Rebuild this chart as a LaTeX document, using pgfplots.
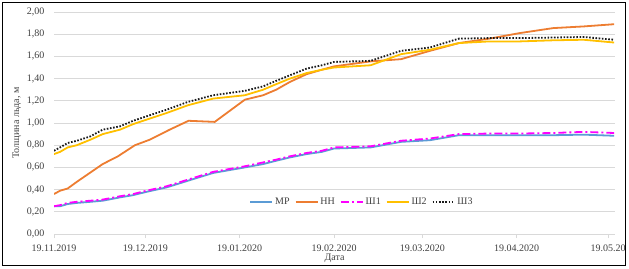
\documentclass[border=0pt]{standalone}
\usepackage{fontspec}
\setmainfont{Liberation Serif}
\usepackage{pgfplots}
\usepackage{pgfplotstable}
\pgfplotsset{compat=1.18}
\definecolor{cMR}{HTML}{5B9BD5}
\definecolor{cNN}{HTML}{ED7D31}
\definecolor{cSh1}{HTML}{FF00FF}
\definecolor{cSh2}{HTML}{FFC000}
\definecolor{cSh3}{HTML}{1A1A1A}
\definecolor{ctext}{HTML}{404040}
\definecolor{cgrid}{HTML}{D9D9D9}

\pgfplotstableread{
d v
0 0.25
2 0.25
4.5 0.27
7.5 0.28
12 0.29
16 0.30
21.7 0.33
26 0.35
30.4 0.38
37 0.42
44 0.48
52.3 0.55
62.7 0.60
68.7 0.63
73 0.66
77.5 0.69
83 0.72
88 0.74
92 0.77
104 0.78
114 0.83
123.5 0.845
133 0.89
143 0.89
153 0.89
164 0.89
174 0.895
184 0.885
}\tMR

\pgfplotstableread{
d v
0 0.36
2 0.39
4.5 0.41
7.5 0.47
16 0.63
21 0.70
26.6 0.80
31.5 0.85
38 0.94
44.2 1.02
52.8 1.01
62.7 1.21
68.7 1.25
73 1.30
77.5 1.37
83 1.44
88 1.48
92 1.51
104 1.555
114 1.575
123.5 1.65
133 1.72
143 1.76
153 1.81
164 1.855
174 1.87
184 1.89
}\tNN

\pgfplotstableread{
d v
0 0.25
2 0.26
4.5 0.28
7.5 0.29
12 0.30
16 0.31
21.7 0.34
26 0.36
30.4 0.39
37 0.43
44 0.49
52.3 0.56
62.7 0.61
68.7 0.645
73 0.67
77.5 0.70
83 0.73
88 0.75
92 0.78
104 0.79
114 0.84
123.5 0.86
133 0.90
143 0.905
153 0.905
164 0.91
174 0.92
184 0.91
}\tShA

\pgfplotstableread{
d v
0 0.72
2 0.74
4.5 0.78
7.5 0.80
12 0.85
16 0.90
21.7 0.94
26 0.99
30.4 1.03
37 1.09
44 1.16
52.3 1.22
62.7 1.25
68.7 1.30
73 1.35
77.5 1.40
83 1.45
88 1.48
92 1.50
104 1.52
114 1.62
123.5 1.66
133 1.72
143 1.735
153 1.735
164 1.745
174 1.75
184 1.725
}\tShB

\pgfplotstableread{
d v
0 0.75
2 0.78
4.5 0.82
7.5 0.84
12 0.88
16 0.94
21.7 0.97
26 1.02
30.4 1.06
37 1.12
44 1.19
52.3 1.25
62.7 1.29
68.7 1.33
73 1.38
77.5 1.43
83 1.49
88 1.52
92 1.55
104 1.56
114 1.65
123.5 1.68
133 1.76
143 1.765
153 1.765
164 1.77
174 1.775
184 1.75
}\tShC

\begin{document}
\begin{tikzpicture}
\useasboundingbox (0,0) rectangle (629bp,269bp);
\begin{axis}[
  scale only axis,
  width=561bp, height=222bp,
  at={(54bp,35bp)}, anchor=south west,
  xmin=0, xmax=184.3,
  ymin=0, ymax=2,
  axis lines*=left,
  x axis line style={draw=cgrid, line width=0.8bp},
  y axis line style={draw=none},
  ymajorgrids,
  grid style={draw=cgrid, line width=0.8bp},
  ytick={0,0.2,...,2.01},
  xtick={0,30,61,92,121,152,182},
  xticklabels={19.11.2019,19.12.2019,19.01.2020,19.02.2020,19.03.2020,19.04.2020,19.05.20},
  tick align=outside,
  major tick length=4bp,
  xtick style={draw=cgrid, line width=0.8bp},
  y tick style={draw=none},
  /pgf/number format/assume math mode=true,
  yticklabel style={/pgf/number format/fixed, /pgf/number format/fixed zerofill, /pgf/number format/precision=2, /pgf/number format/use comma},
  ticklabel style={text=ctext, font=\fontsize{10bp}{12bp}\selectfont},
  xticklabel style={yshift=-3bp},
  yticklabel style={xshift=-2bp},
  ylabel={Толщина льда, м},
  xlabel={Дата},
  label style={text=ctext, font=\fontsize{10bp}{12bp}\selectfont},
  ylabel style={at={(axis description cs:-0.066,0.5)}, anchor=center},
  xlabel style={yshift=4bp},
  legend style={at={(0.549,0.144)}, anchor=center, draw=none, fill=none,
    font=\fontsize{10bp}{12bp}\selectfont, text=ctext,
    /tikz/every even column/.append style={column sep=3bp},
    /tikz/every odd column/.append style={column sep=0bp}},
  legend columns=-1,
  legend cell align=left,
  legend image code/.code={\draw[#1] (0bp,0bp) -- (22bp,0bp);},
]
\addplot[cMR, line width=1.8bp] table[x=d,y=v]{\tMR};
\addlegendentry{МР\hspace{12bp}}
\addplot[cNN, line width=1.8bp] table[x=d,y=v]{\tNN};
\addlegendentry{НН\hspace{12bp}}
\addplot[cSh1, line width=1.8bp, dash pattern=on 8bp off 3bp on 2bp off 3bp] table[x=d,y=v]{\tShA};
\addlegendentry{Ш1\hspace{12bp}}
\addplot[cSh2, line width=1.8bp] table[x=d,y=v]{\tShB};
\addlegendentry{Ш2\hspace{12bp}}
\addplot[cSh3, line width=1.8bp, dash pattern=on 1.6bp off 1.6bp] table[x=d,y=v]{\tShC};
\addlegendentry{Ш3}
\end{axis}
\draw[black, line width=1bp] (2.5bp,3bp) rectangle (625.5bp,266.5bp);
\end{tikzpicture}
\end{document}
